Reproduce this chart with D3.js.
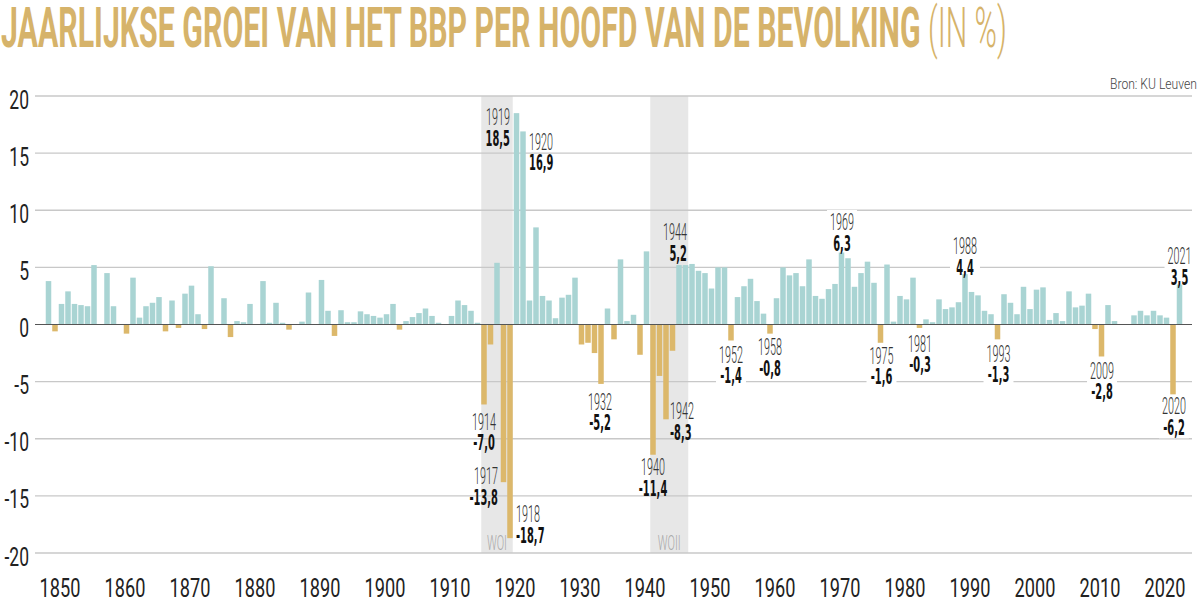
<!DOCTYPE html>
<html>
<head>
<meta charset="utf-8">
<script src="https://cdn.jsdelivr.net/npm/d3@7"></script>
<style>
  html, body { margin: 0; padding: 0; background: #ffffff; }
  svg { display: block; }
</style>
</head>
<body>
<svg id="chart" width="1200" height="603"></svg>
<script>
// ---------------- DATA ----------------
const firstYear = 1847;
// Annual growth of GDP per capita (%), 1847 .. 2021 (null = no bar)
const growth = [
  3.8, -0.6, 1.8,                                              // 1847-1849
  2.9, 1.8, 1.7, 1.6, 5.2, null, 4.5, 1.6, null, -0.8,         // 1850s
  4.1, 0.6, 1.6, 1.9, 2.4, -0.6, 2.1, -0.3, 2.7, 3.4,          // 1860s
  0.9, -0.4, 5.1, null, 2.3, -1.1, 0.3, 0.2, 1.8, null,        // 1870s
  3.8, 0.15, 1.9, 0.15, -0.45, null, 0.25, 2.8, null, 3.9,     // 1880s
  1.2, -1.0, 1.25, 0.2, 0.2, 1.15, 0.9, 0.75, 0.6, 0.9,        // 1890s
  1.8, -0.45, 0.3, 0.65, 1.0, 1.4, 0.75, 0.15, null, 0.75,     // 1900s
  2.1, 1.7, 1.2, 0.15, -7.0, -1.75, 5.4, -13.8, -18.7, 18.5,   // 1910s
  16.9, 2.1, 8.5, 2.5, 2.1, 0.55, 2.35, 2.6, 4.1, -1.75,       // 1920s
  -1.6, -2.5, -5.2, 1.4, -1.3, 5.7, 0.3, 0.85, -2.65, 6.4,     // 1930s
  -11.4, -4.5, -8.3, -2.3, 5.2, 5.2, 5.3, 4.7, 4.5, 3.15,      // 1940s
  5.0, 5.0, -1.4, 2.4, 3.35, 4.0, 2.05, 0.95, -0.8, 2.3,       // 1950s
  5.0, 4.3, 4.5, 3.35, 5.7, 2.5, 2.25, 3.1, 3.55, 6.3,         // 1960s
  5.8, 3.3, 4.5, 5.5, 3.65, -1.6, 5.25, 0.25, 2.5, 2.2,        // 1970s
  4.1, -0.3, 0.45, 0.2, 2.2, 1.35, 1.5, 1.95, 4.4, 2.85,       // 1980s
  2.55, 1.2, 0.9, -1.3, 2.65, 1.9, 0.9, 3.3, 1.35, 3.05,       // 1990s
  3.25, 0.4, 1.0, 0.3, 2.9, 1.5, 1.65, 2.7, -0.4, -2.8,        // 2000s
  1.7, 0.3, null, null, 0.8, 1.2, 0.8, 1.2, 0.8, 0.6,          // 2010s
  -6.2, 3.5                                                    // 2020-2021
];
const years = growth.map((_, i) => firstYear + i);

const yTicks = [-20, -15, -10, -5, 0, 5, 10, 15, 20];
const xTickYears = [1850, 1860, 1870, 1880, 1890, 1900, 1910, 1920, 1930, 1940, 1950, 1960, 1970, 1980, 1990, 2000, 2010, 2020];

const wars = [
  { name: "WOI",  from: 1914, to: 1918 },
  { name: "WOII", from: 1940, to: 1945 }
];

const highlightYears = [1914, 1917, 1918, 1919, 1920, 1932, 1940, 1942, 1944, 1952, 1958,
                        1969, 1975, 1981, 1988, 1993, 2009, 2020, 2021];

const titleText = "JAARLIJKSE GROEI VAN HET BBP PER HOOFD VAN DE BEVOLKING";
const titleUnit = " (IN %)";
const sourceText = "Bron: KU Leuven";

// ---------------- LAYOUT / STYLE ----------------
const colPos = "#a9d4d3";
const colNeg = "#dcb86b";
const colTitle = "#d6b36a";
const colShade = "#e7e7e7";
const colGrid = "#c8c8c8";

// label placement relative to the bar end (dy = top of the year line)
const labelLayout = {
  1914: { anchor: "middle", dx: 0,    dy: 8.5,   bg: false },
  1917: { anchor: "end",    dx: -5.5, dy: -15,   bg: false },
  1918: { anchor: "start",  dx: 6,    dy: -33,   bg: false },
  1919: { anchor: "end",    dx: -6.5, dy: -5,    bg: false },
  1920: { anchor: "start",  dx: 6,    dy: 1.5,   bg: true },
  1932: { anchor: "middle", dx: -1,   dy: 9,     bg: true },
  1940: { anchor: "middle", dx: 0,    dy: 3.5,   bg: false },
  1942: { anchor: "start",  dx: 4,    dy: -17,   bg: false },
  1944: { anchor: "end",    dx: 8,    dy: -42,   bg: false },
  1952: { anchor: "middle", dx: 0,    dy: 5.5,   bg: true },
  1958: { anchor: "middle", dx: 0,    dy: 4.5,   bg: true },
  1969: { anchor: "middle", dx: 0.5,  dy: -39.5, bg: true },
  1975: { anchor: "middle", dx: 1,    dy: 4,     bg: true },
  1981: { anchor: "middle", dx: 0.5,  dy: 7,     bg: true },
  1988: { anchor: "middle", dx: 0,    dy: -37,   bg: true },
  1993: { anchor: "middle", dx: 1,    dy: 5.5,   bg: true },
  2009: { anchor: "middle", dx: 0.5,  dy: 5.5,   bg: true },
  2020: { anchor: "middle", dx: 1,    dy: 2,     bg: true },
  2021: { anchor: "middle", dx: 0,    dy: -37.5, bg: true }
};

const svg = d3.select("#chart");

const x = d3.scaleLinear().domain([1847, 2021]).range([48.5, 1179.5]);
const y = d3.scaleLinear().domain([-20, 20]).range([553, 96]);
const barW = 5.5;
const gridX0 = 35, gridX1 = 1192;

// ---------------- TITLE ----------------
const title = svg.append("text")
  .attr("font-family", "Roboto, 'Open Sans', sans-serif")
  .attr("font-size", 56)
  .attr("font-weight", 700)
  .attr("fill", colTitle);
title.append("tspan").text(titleText);
title.append("tspan").attr("font-weight", 300).text(titleUnit);
{
  const w = title.node().getComputedTextLength();
  title.attr("transform", `translate(1,47) scale(${1006 / w},1)`);
}

const src = svg.append("text")
  .attr("font-family", "Roboto, sans-serif")
  .attr("font-size", 15)
  .attr("font-weight", 300)
  .attr("fill", "#444")
  .text(sourceText);
{
  const w = src.node().getComputedTextLength();
  src.attr("transform", `translate(1110,89) scale(${87 / w},1)`);
}

// ---------------- WAR SHADING ----------------
const shade = svg.append("g");
wars.forEach(w => {
  const x0 = x(w.from) - barW / 2, x1 = x(w.to) + barW / 2;
  shade.append("rect")
    .attr("x", x0).attr("y", y(20))
    .attr("width", x1 - x0).attr("height", y(-20) - y(20))
    .attr("fill", colShade);
});

// ---------------- GRID ----------------
const grid = svg.append("g");
yTicks.filter(t => t !== 0).forEach(t => {
  grid.append("line")
    .attr("x1", gridX0).attr("x2", gridX1)
    .attr("y1", y(t)).attr("y2", y(t))
    .attr("stroke", colGrid).attr("stroke-width", 1.4);
});

// y tick labels
const yLab = svg.append("g");
yTicks.forEach(t => {
  yLab.append("text")
    .attr("transform", `translate(29,${y(t) + 12.5}) scale(0.7,1)`)
    .attr("text-anchor", "end")
    .attr("font-family", "Roboto, sans-serif")
    .attr("font-size", 25)
    .attr("fill", "#222")
    .text(t);
});

// x tick labels
const xLab = svg.append("g");
xTickYears.forEach(yr => {
  xLab.append("text")
    .attr("transform", `translate(${x(yr) - 8},597) scale(0.7,1)`)
    .attr("text-anchor", "middle")
    .attr("font-family", "Roboto, sans-serif")
    .attr("font-size", 26)
    .attr("fill", "#222")
    .text(yr);
});

// ---------------- BARS ----------------
const barData = years.map((yr, i) => ({ year: yr, value: growth[i] })).filter(d => d.value !== null);
svg.append("g").selectAll("rect")
  .data(barData)
  .join("rect")
  .attr("x", d => x(d.year) - barW / 2)
  .attr("width", barW)
  .attr("y", d => y(Math.max(0, d.value)))
  .attr("height", d => Math.abs(y(d.value) - y(0)))
  .attr("fill", d => d.value >= 0 ? colPos : colNeg);

// zero line
svg.append("line")
  .attr("x1", gridX0).attr("x2", gridX1)
  .attr("y1", y(0)).attr("y2", y(0))
  .attr("stroke", "#555").attr("stroke-width", 1);

// war names
wars.forEach(w => {
  const cx = (x(w.from) + x(w.to)) / 2;
  svg.append("text")
    .attr("transform", `translate(${cx},550) scale(0.52,1)`)
    .attr("text-anchor", "middle")
    .attr("font-family", "Roboto, sans-serif")
    .attr("font-size", 21)
    .attr("font-weight", 300)
    .attr("fill", "#a8a8a8")
    .text(w.name);
});

// ---------------- ANNOTATIONS ----------------
const sx = 0.45;
const fmt = v => d3.format(".1f")(v).replace(".", ",").replace("\u2212", "-");
const annG = svg.append("g");
highlightYears.forEach(yr => {
  const v = growth[yr - firstYear];
  const L = labelLayout[yr];
  const bx = x(yr) + L.dx;
  const top = y(v) + L.dy;
  const g = annG.append("g");
  const t = g.append("text")
    .attr("transform", `translate(${bx},0) scale(${sx},1)`)
    .attr("text-anchor", L.anchor);
  t.append("tspan")
    .attr("x", 0).attr("y", top + 17)
    .attr("font-family", "Roboto, sans-serif")
    .attr("font-size", 24)
    .attr("font-weight", 300)
    .attr("fill", "#333")
    .text(yr);
  t.append("tspan")
    .attr("x", 0).attr("y", top + 37.5)
    .attr("font-family", "'DejaVu Sans', sans-serif")
    .attr("font-size", 22)
    .attr("font-weight", 700)
    .attr("fill", "#111")
    .text(fmt(v));
  if (L.bg) {
    const bb = g.node().getBBox();
    const h = v > 0 ? Math.min(44, -L.dy + 2) : 44;
    g.insert("rect", ":first-child")
      .attr("x", bb.x - 3).attr("width", bb.width + 6)
      .attr("y", top - 3).attr("height", h)
      .attr("fill", "#ffffff");
  }
});
</script>
</body>
</html>
